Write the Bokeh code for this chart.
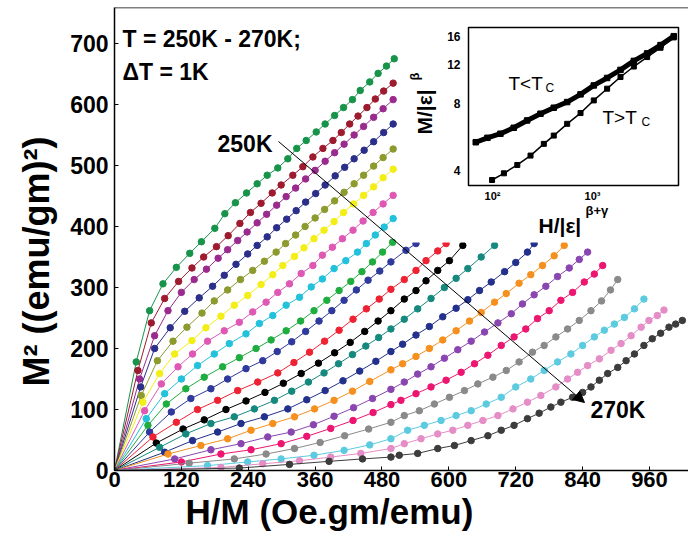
import numpy as np
from bokeh.plotting import figure
from bokeh.models import Range1d, FixedTicker, LogScale, Span, Arrow, NormalHead, Title
from bokeh.core.properties import value
from bokeh.embed import file_html
from bokeh.resources import INLINE

FONT = "Liberation Sans"

temps = list(range(250, 271))
colors = ["#17944a", "#9e1b2f", "#9a2b8e", "#2b2f8a", "#8c9a2e", "#f3ee16", "#de58b4",
          "#22c1dc", "#20ad40", "#2f3a9c", "#ee2232", "#000000", "#15897e", "#23308c",
          "#f5901f", "#8a46b0", "#ec1670", "#8a8a8a", "#5ccbe0", "#e58dc6", "#3c3c3c"]

x250 = [0, 39, 63, 87, 111, 135, 156, 180, 198, 217, 237, 256, 274, 293, 311, 327, 344, 362, 378, 395, 411, 427, 441, 458, 473, 488, 502]
y250 = [0, 178, 262, 306, 333, 356, 375, 397, 421, 439, 455, 470, 484, 496, 511, 528, 541, 555, 568, 582, 595, 608, 623, 637, 651, 663, 675]
x251 = [0, 42, 66, 90, 115, 139, 160, 183, 204, 225, 244, 263, 283, 299, 320, 338, 356, 374, 392, 407, 422, 437, 453, 468, 483, 500]
y251 = [0, 164, 242, 282, 310, 332, 350, 367, 385, 405, 423, 438, 455, 468, 484, 498, 514, 528, 541, 554, 568, 581, 595, 609, 622, 635]
x252 = [0, 45, 72, 96, 120, 143, 165, 186, 203, 221, 238, 256, 273, 291, 308, 325, 343, 360, 378, 395, 412, 430, 447, 465, 482, 500]
y252 = [0, 150, 221, 262, 292, 313, 330, 348, 362, 377, 391, 406, 420, 435, 449, 463, 478, 492, 507, 521, 535, 550, 564, 579, 593, 608]
x253 = [0, 47, 72, 100, 126, 152, 176, 197, 218, 239, 256, 274, 291, 309, 326, 343, 361, 378, 396, 413, 430, 448, 465, 483, 500]
y253 = [0, 137, 200, 234, 261, 283, 302, 320, 338, 355, 369, 383, 398, 412, 426, 440, 454, 468, 483, 497, 511, 525, 539, 554, 568]
x254 = [0, 48, 77, 105, 130, 157, 179, 203, 226, 248, 269, 290, 307, 325, 342, 360, 377, 395, 412, 430, 447, 465, 482, 500]
y254 = [0, 123, 180, 212, 235, 258, 278, 296, 313, 328, 343, 358, 372, 386, 400, 414, 428, 442, 456, 470, 484, 499, 513, 527]
x255 = [0, 51, 81, 108, 139, 164, 191, 215, 239, 263, 284, 302, 323, 340, 358, 376, 394, 411, 429, 447, 465, 482, 500]
y255 = [0, 112, 159, 191, 213, 234, 253, 271, 287, 305, 321, 336, 351, 365, 380, 394, 408, 423, 437, 451, 465, 480, 494]
x256 = [0, 54, 84, 114, 140, 167, 197, 224, 248, 272, 293, 314, 335, 356, 373, 391, 409, 428, 446, 464, 482, 500]
y256 = [0, 98, 142, 170, 191, 212, 229, 243, 260, 276, 292, 306, 323, 336, 353, 366, 380, 394, 409, 423, 437, 451]
x257 = [0, 57, 90, 120, 149, 179, 206, 236, 260, 284, 308, 332, 353, 373, 394, 415, 436, 452, 468, 484, 500]
y257 = [0, 85, 126, 150, 172, 191, 208, 224, 241, 254, 271, 284, 301, 314, 331, 344, 358, 372, 386, 399, 413]
x258 = [0, 60, 93, 128, 161, 194, 224, 254, 281, 308, 334, 358, 381, 403, 424, 444, 463, 481, 499]
y258 = [0, 74, 109, 134, 153, 170, 185, 200, 214, 229, 245, 262, 279, 295, 310, 326, 342, 358, 374]
x259 = [0, 63, 102, 137, 173, 203, 236, 266, 292, 318, 343, 367, 390, 412, 434, 455, 476, 496, 523, 541]
y259 = [0, 63, 96, 118, 134, 150, 167, 180, 195, 211, 228, 245, 262, 279, 296, 312, 327, 342, 361, 372]
x260 = [0, 69, 111, 149, 185, 221, 257, 293, 322, 350, 377, 403, 428, 452, 475, 496, 520, 541, 559, 580, 595]
y260 = [0, 55, 79, 100, 115, 131, 145, 160, 177, 194, 212, 230, 248, 265, 281, 297, 313, 328, 344, 360, 372]
x261 = [0, 75, 123, 161, 200, 236, 270, 303, 335, 366, 395, 423, 449, 473, 496, 520, 541, 559, 580, 601, 625]
y261 = [0, 45, 68, 83, 100, 114, 128, 143, 159, 176, 193, 210, 228, 245, 262, 281, 295, 311, 328, 344, 369]
x262 = [0, 81, 128, 173, 215, 251, 287, 318, 348, 376, 402, 427, 451, 474, 496, 520, 544, 568, 592, 613, 634, 658, 682]
y262 = [0, 38, 60, 77, 88, 101, 115, 130, 145, 160, 175, 190, 204, 218, 232, 248, 265, 282, 300, 315, 331, 350, 369]
x263 = [0, 90, 140, 185, 227, 269, 311, 345, 378, 410, 440, 469, 496, 517, 541, 565, 589, 613, 634, 655, 676, 700, 720, 741, 753]
y263 = [0, 30, 49, 63, 77, 88, 101, 116, 131, 147, 163, 179, 195, 207, 222, 236, 252, 266, 280, 295, 309, 326, 341, 358, 372]
x264 = [0, 96, 155, 203, 245, 284, 323, 359, 394, 427, 458, 496, 517, 541, 565, 589, 613, 637, 658, 682, 703, 726, 747, 768, 789, 807]
y264 = [0, 27, 41, 52, 66, 77, 88, 101, 115, 130, 146, 165, 175, 187, 200, 214, 229, 245, 259, 276, 290, 307, 321, 336, 352, 369]
x265 = [0, 108, 173, 227, 275, 317, 357, 394, 429, 463, 496, 520, 544, 568, 592, 616, 640, 664, 688, 712, 732, 753, 774, 795, 816, 834, 849]
y265 = [0, 19, 34, 44, 55, 63, 75, 89, 103, 118, 133, 145, 158, 170, 184, 198, 212, 227, 242, 257, 273, 288, 302, 318, 332, 346, 358]
x266 = [0, 120, 191, 245, 299, 345, 388, 428, 464, 496, 514, 541, 568, 595, 622, 646, 670, 694, 717, 738, 759, 780, 801, 822, 843, 861, 876]
y266 = [0, 14, 27, 34, 44, 56, 69, 82, 95, 108, 115, 126, 137, 148, 161, 175, 189, 205, 219, 232, 249, 262, 279, 292, 309, 322, 336]
x267 = [0, 134, 215, 272, 323, 369, 413, 456, 496, 520, 547, 574, 601, 628, 652, 679, 703, 726, 750, 771, 792, 813, 834, 855, 874, 890, 903]
y267 = [0, 12, 19, 27, 36, 46, 57, 68, 79, 90, 98, 109, 120, 131, 142, 153, 164, 178, 194, 205, 219, 232, 246, 262, 278, 296, 313]
x268 = [0, 167, 239, 299, 358, 412, 458, 496, 526, 556, 586, 613, 640, 667, 694, 720, 747, 771, 795, 819, 840, 861, 879, 897, 915, 933, 950]
y268 = [0, 8, 14, 19, 25, 33, 42, 52, 66, 74, 82, 90, 98, 109, 120, 137, 150, 164, 178, 191, 205, 219, 230, 240, 251, 265, 281]
x269 = [0, 191, 266, 332, 388, 442, 496, 520, 550, 580, 607, 634, 661, 688, 715, 741, 765, 792, 813, 831, 849, 870, 891, 909, 927, 945, 959, 974, 986]
y269 = [0, 5, 11, 16, 22, 28, 36, 44, 52, 60, 66, 74, 82, 90, 101, 112, 123, 137, 150, 161, 172, 183, 197, 208, 221, 235, 246, 254, 263]
x270 = [0, 224, 314, 385, 445, 496, 511, 544, 580, 610, 640, 670, 694, 717, 741, 762, 783, 801, 822, 840, 855, 870, 885, 903, 918, 933, 950, 965, 980, 995, 1007, 1019]
y270 = [0, 4, 10, 15, 19, 22, 25, 28, 36, 41, 49, 57, 66, 74, 85, 94, 104, 112, 120, 128, 137, 148, 159, 169, 180, 191, 205, 216, 225, 235, 240, 246]

xs_all = [x250, x251, x252, x253, x254, x255, x256, x257, x258, x259, x260,
          x261, x262, x263, x264, x265, x266, x267, x268, x269, x270]
ys_all = [y250, y251, y252, y253, y254, y255, y256, y257, y258, y259, y260,
          y261, y262, y263, y264, y265, y266, y267, y268, y269, y270]

x_ticks = [0, 120, 240, 360, 480, 600, 720, 840, 960]
y_ticks = [0, 100, 200, 300, 400, 500, 600, 700]

# inset (scaling plot) data
tlow_x = [68, 89, 120, 163, 222, 302, 410, 558, 759, 1030, 1400, 1905, 2590, 3520, 4790, 6500]
tlow_y = [5.36, 5.61, 5.85, 6.22, 6.71, 7.19, 7.65, 8.11, 8.78, 9.63, 10.4, 11.3, 12.4, 13.4, 14.6, 16.0]
thigh_x = [99, 130, 177, 240, 326, 410, 558, 759, 1030, 1400, 1905, 2590, 3520, 4790, 6500]
thigh_y = [3.63, 3.89, 4.24, 4.67, 5.27, 5.74, 6.48, 7.24, 8.25, 9.31, 10.5, 11.7, 12.9, 14.2, 15.8]
inset_yticks = [4, 8, 12, 16]
inset_xticks = [100, 1000]
inset_xtick_labels = ["10\u00b2", "10\u00b3"]

# ---- layout geometry (pixels) ----
W, H = 688, 533
FL, FR, FT, FB = 114, 688, 7, 470          # main frame
IL, IR, IT, IB = 468, 678, 27, 185         # inset box
ix0, ix1 = 10 ** 1.76, 10 ** 3.86          # inset data box
iy0, iy1 = 3.43, 17.5

XMAX, YMAX = 1030, 759

p = figure(width=W, height=H, x_range=Range1d(0, XMAX), y_range=Range1d(0, YMAX),
           output_backend="svg", toolbar_location=None,
           min_border_left=FL, min_border_right=W - FR, min_border_top=FT,
           min_border_bottom=H - FB)
p.title = None
p.grid.visible = False
p.outline_line_color = None
p.background_fill_color = "white"
p.border_fill_color = "white"

for ax, ticks, fs in ((p.xaxis, x_ticks, "22px"), (p.yaxis, y_ticks, "23px")):
    ax.ticker = FixedTicker(ticks=ticks)
    ax.major_label_text_font = FONT
    ax.major_label_text_font_style = "bold"
    ax.major_label_text_font_size = fs
    ax.major_label_text_color = "black"
    ax.major_tick_in = 4
    ax.major_tick_out = 0
    ax.minor_tick_line_color = None
    ax.axis_line_width = 1.5
    ax.axis_line_color = "black"
    ax.major_tick_line_color = "black"
p.xaxis.major_label_standoff = 1
p.yaxis.major_label_standoff = 6

# axis titles
has_standoff = "standoff" in Title.properties()
xt_kw = dict(text="H/M (Oe.gm/emu)", align="left", offset=71, text_font=FONT,
             text_font_style="bold", text_font_size="35px", text_color="black")
yt_kw = dict(text="M\u00b2 ((emu/gm)\u00b2)", align="left", offset=84, text_font=FONT,
             text_font_style="bold", text_font_size="36px", text_color="black")
if has_standoff:
    xt_kw["standoff"] = 0
    yt_kw["standoff"] = 21
p.add_layout(Title(**xt_kw), "below")
p.add_layout(Title(**yt_kw), "left")

p.add_layout(Span(location=YMAX, dimension="width", line_color="black", line_width=1.5))

# main curves
for xs, ys, c in zip(xs_all, ys_all, colors):
    p.line(xs, ys, line_color=c, line_width=1)
    p.scatter(xs, ys, size=6.5, fill_color=c, line_color=c)

sx = XMAX / (FR - FL)
sy = YMAX / (FB - FT)

# inset white background
p.quad(left=[(398 - FL) * sx], right=[XMAX], bottom=[(FB - 242) * sy], top=[YMAX],
       fill_color="white", line_color=None)

# inset log ranges spanning the whole frame
lx0, lx1 = np.log10(ix0), np.log10(ix1)
kx = (lx1 - lx0) / (IR - IL)
ly0, ly1 = np.log10(iy0), np.log10(iy1)
ky = (ly1 - ly0) / (IB - IT)
p.extra_x_ranges = {"ix": Range1d(10 ** (lx0 - (IL - FL) * kx), 10 ** (lx1 + (FR - IR) * kx))}
p.extra_x_scales = {"ix": LogScale()}
p.extra_y_ranges = {"iy": Range1d(10 ** (ly0 - (FB - IB) * ky), 10 ** (ly1 + (IT - FT) * ky))}
p.extra_y_scales = {"iy": LogScale()}
IN = dict(x_range_name="ix", y_range_name="iy")

p.quad(left=[ix0], right=[ix1], bottom=[iy0], top=[iy1], fill_color=None,
       line_color="black", line_width=1.5, **IN)
p.line(tlow_x, tlow_y, line_color="black", line_width=5, **IN)
p.scatter(tlow_x, tlow_y, marker="square", size=5.5, color="black", **IN)
p.line(thigh_x, thigh_y, line_color="black", line_width=1.5, **IN)
p.scatter(thigh_x, thigh_y, marker="square", size=5, color="black", **IN)

p.text(x=[ix0] * len(inset_yticks), y=inset_yticks, text=[str(v) for v in inset_yticks],
       x_offset=-8, text_align="right", text_baseline="middle",
       text_font=value(FONT), text_font_style="bold", text_font_size="12px", **IN)
p.text(x=inset_xticks, y=[iy0] * 2, text=inset_xtick_labels, y_offset=4,
       text_align="center", text_baseline="top",
       text_font=value(FONT), text_font_style="bold", text_font_size="11px", **IN)


def px2x(px):
    return (px - FL) * sx


def py2y(py):
    return (FB - py) * sy


def txt(px, py, s, size, bold=True, align="left", baseline="alphabetic", angle=0.0):
    p.text(x=[px2x(px)], y=[py2y(py)], text=[s], text_font=value(FONT),
           text_font_style="bold" if bold else "normal", text_font_size=size,
           text_align=align, text_baseline=baseline, angle=angle, text_color="black")


# inset labels
txt(508, 83, "T<T", "19px", bold=False)
txt(545, 87, "C", "12px", bold=False)
txt(602, 117, "T>T", "19px", bold=False)
txt(641, 121, "C", "12px", bold=False)
txt(424, 134, "M/|\u03b5|", "21px", angle=np.pi / 2)
txt(414, 80, "\u03b2", "13px", angle=np.pi / 2)
txt(538, 225, "H/|\u03b5|", "21px")
txt(585, 210, "\u03b2+\u03b3", "13px")

# main annotations
txt(122, 38, "T = 250K - 270K;", "23px")
txt(122, 71, "\u0394T = 1K", "23px")
txt(272, 143, "250K", "23px", align="right", baseline="middle")
txt(590, 409, "270K", "23px", align="left", baseline="middle")

p.add_layout(Arrow(end=NormalHead(size=11, fill_color="black", line_color="black"),
                   x_start=px2x(278), y_start=py2y(141), x_end=px2x(584), y_end=py2y(402),
                   line_color="black", line_width=1))

open("out.html", "w").write(file_html(p, INLINE))
